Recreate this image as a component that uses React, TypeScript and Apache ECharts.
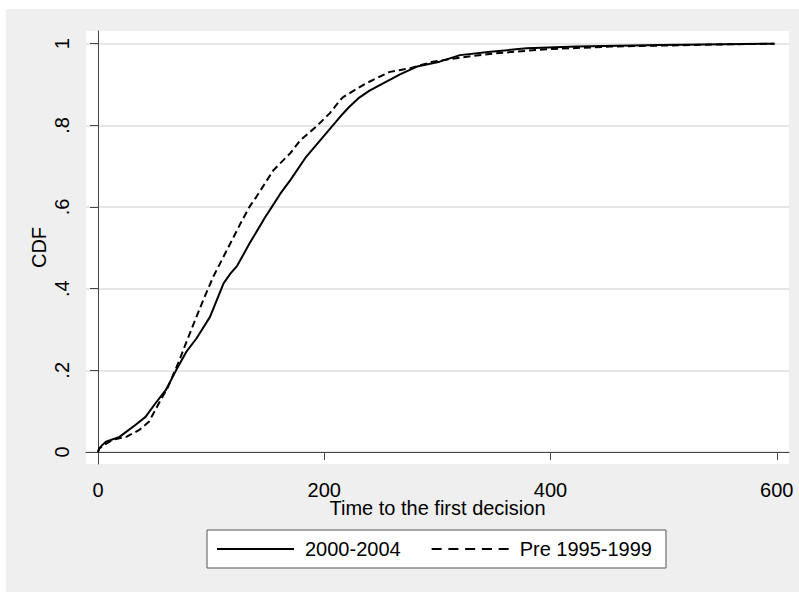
import React, { useEffect, useRef } from 'react';
import * as echarts from 'echarts';

const xTickValues = [0, 200, 400, 600];
const yTickValues = [0, 0.2, 0.4, 0.6, 0.8, 1];
const yTickLabels = ['0', '.2', '.4', '.6', '.8', '1'];
const seriesNames = ['2000-2004', 'Pre 1995-1999'];
const xTitle = 'Time to the first decision';
const yTitle = 'CDF';

const time2000 = [0, 1, 3, 7, 19, 33, 42, 51, 60, 69, 78, 87, 99, 105, 111, 117, 123, 134, 148, 152, 161, 170, 184, 199, 214, 222, 230, 240, 252, 267, 282, 302, 320, 347, 379, 423, 497, 598];
const cdf2000 = [0, 0.008, 0.015, 0.025, 0.037, 0.066, 0.086, 0.12, 0.152, 0.2, 0.245, 0.278, 0.331, 0.372, 0.413, 0.437, 0.456, 0.511, 0.576, 0.593, 0.632, 0.666, 0.723, 0.772, 0.821, 0.845, 0.866, 0.885, 0.903, 0.925, 0.944, 0.956, 0.972, 0.98, 0.989, 0.993, 0.997, 1.0];

const timePre = [0, 1, 4, 13, 25, 36.5, 45, 53, 62, 72, 75.4, 84, 93, 102, 117, 126, 134, 140, 155, 170, 179, 193, 205, 214, 217, 237, 258, 276, 296, 323, 350, 393, 453, 547, 598];
const cdfPre = [0, 0.008, 0.015, 0.03, 0.037, 0.054, 0.074, 0.115, 0.16, 0.225, 0.25, 0.31, 0.372, 0.43, 0.511, 0.56, 0.601, 0.625, 0.69, 0.732, 0.764, 0.797, 0.83, 0.862, 0.87, 0.903, 0.931, 0.94, 0.956, 0.967, 0.976, 0.986, 0.993, 0.998, 1.0];

const FONT = 'Liberation Sans, Arial, Helvetica, sans-serif';
const SOLID_ICON = 'path://M0,0H77V2H0Z';
const DASH_ICON = 'path://M0,0H10V2H0Z M16.75,0H26.75V2H16.75Z M33.5,0H43.5V2H33.5Z M50.25,0H60.25V2H50.25Z M67,0H77V2H67Z';

export default function App() {
  const ref = useRef<HTMLDivElement>(null);
  useEffect(() => {
    if (!ref.current) return;
    const chart = echarts.init(ref.current, undefined, { renderer: 'svg' });
    const pair = (xs: number[], ys: number[]) => xs.map((x, i) => [x, ys[i]]);
    chart.setOption({
      animation: false,
      backgroundColor: '#efefef',
      textStyle: { fontFamily: FONT },
      grid: {
        left: 80,
        top: 22,
        width: 703,
        height: 433,
        show: true,
        backgroundColor: '#ffffff',
        borderWidth: 0,
      },
      legend: {
        left: 201,
        top: 521,
        orient: 'horizontal',
        backgroundColor: '#ffffff',
        borderColor: '#555555',
        borderWidth: 1,
        padding: [9, 14, 9, 10],
        itemWidth: 77,
        itemHeight: 2,
        itemGap: 31,
        data: [
          { name: seriesNames[0], icon: SOLID_ICON },
          { name: seriesNames[1], icon: DASH_ICON },
        ],
        itemStyle: { color: '#000', borderWidth: 0 },
        textStyle: { fontSize: 20, color: '#000', fontFamily: FONT, padding: [0, 0, 0, 6] },
      },
      xAxis: {
        type: 'value',
        min: -10.61,
        max: 610.8,
        name: xTitle,
        nameLocation: 'middle',
        nameGap: 34,
        nameMoveOverlap: false,
        nameTextStyle: { fontSize: 20, color: '#000', fontFamily: FONT },
        axisLine: { show: true, lineStyle: { color: '#444', width: 1 } },
        axisTick: { show: true, length: 8, lineStyle: { color: '#444' }, customValues: xTickValues },
        axisLabel: {
          fontSize: 20,
          color: '#000',
          margin: 16,
          fontFamily: FONT,
          customValues: xTickValues,
        },
        splitLine: { show: false },
      },
      yAxis: {
        type: 'value',
        min: -0.0294,
        max: 1.0311,
        name: yTitle,
        nameLocation: 'middle',
        nameGap: 37,
        nameMoveOverlap: false,
        nameTextStyle: { fontSize: 20, color: '#000', fontFamily: FONT },
        axisLine: { show: true, lineStyle: { color: '#444', width: 1 } },
        axisTick: { show: true, length: 8, lineStyle: { color: '#444' }, customValues: yTickValues },
        axisLabel: {
          fontSize: 20,
          color: '#000',
          margin: 14,
          rotate: 90,
          fontFamily: FONT,
          customValues: yTickValues,
          formatter: (v: number) => {
            const i = yTickValues.findIndex((t) => Math.abs(t - v) < 1e-9);
            return i >= 0 ? yTickLabels[i] : '';
          },
        },
        splitLine: { show: true, lineStyle: { color: '#e6e6e6', width: 2 } },
      },
      series: [
        {
          name: seriesNames[0],
          type: 'line',
          data: pair(time2000, cdf2000),
          symbol: 'none',
          showSymbol: false,
          z: 3,
          lineStyle: { color: '#000', width: 2, type: 'solid' },
          itemStyle: { color: '#000' },
        },
        {
          name: seriesNames[1],
          type: 'line',
          data: pair(timePre, cdfPre),
          symbol: 'none',
          showSymbol: false,
          z: 2,
          lineStyle: { color: '#000', width: 2, type: [7, 4] },
          itemStyle: { color: '#000' },
        },
      ],
    });
    return () => chart.dispose();
  }, []);
  return (
    <div
      ref={ref}
      style={{ position: 'absolute', left: 6, top: 9, width: 793, height: 583 }}
    />
  );
}
